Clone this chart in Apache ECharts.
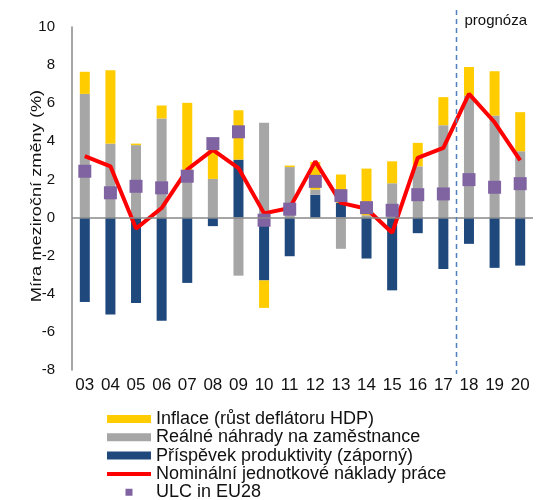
<!DOCTYPE html>
<html lang="cs">
<head>
	<meta charset="UTF-8" />
	<title>Jednotkové náklady práce</title>
	<script src="https://cdn.jsdelivr.net/npm/echarts@6/dist/echarts.min.js"></script>
	<style>
		html, body { margin: 0; padding: 0; background: #fff; }
		#main { width: 543px; height: 500px; }
	</style>
</head>
<body>
<div id="main"></div>
<script>
	// roky (03 = 2003 ... 20 = 2020, od 18 prognóza)
	var years = ['03','04','05','06','07','08','09','10','11','12','13','14','15','16','17','18','19','20'];

	// složky sloupců (p.b.)
	var inflace = [1.16, 3.85, 0.08, 0.68, 4.07, 1.72, 2.59, -1.44, 0.08, 1.45, 1.48, 2.45, 1.15, 1.23, 1.47, 1.5, 2.33, 2.05];
	var realneNahrady = [6.49, 3.88, 3.8, 5.2, 1.95, 2.03, -3.05, 4.97, 2.65, 0.27, -1.64, 0.12, 1.8, 2.69, 4.85, 6.4, 5.35, 3.48];
	var produktivita = [-4.43, -5.09, -4.48, -5.41, -3.43, -0.45, 3.04, -3.3, -2.03, 1.2, 0.78, -2.15, -3.82, -0.82, -2.7, -1.38, -2.64, -2.52];

	// čára a body
	var nominalniULC = [3.22, 2.69, -0.58, 0.5, 2.52, 3.55, 2.6, 0.22, 0.5, 2.95, 0.77, 0.46, -0.8, 3.13, 3.66, 6.49, 5.0, 3.0];
	var ulcEU28 = [2.43, 1.3, 1.64, 1.56, 2.17, 3.88, 4.5, -0.14, 0.44, 1.9, 1.15, 0.52, 0.38, 1.2, 1.24, 1.99, 1.59, 1.78];

	var yTicks = { min: -8, max: 10, step: 2 };

	var font = 'Liberation Sans, Arial, sans-serif';
	var chart = echarts.init(document.getElementById('main'));

	chart.setOption({
		animation: false,
		textStyle: { fontFamily: font, color: '#111' },
		grid: { left: 72, right: 10, top: 27, bottom: 130 },
		legend: {
			orient: 'vertical',
			left: 107,
			top: 410,
			height: 140,
			padding: 0,
			itemWidth: 44,
			itemHeight: 8,
			itemGap: 0.3,
			selectedMode: false,
			textStyle: { fontFamily: font, fontSize: 18, lineHeight: 18, color: '#111' },
			data: [
				{ name: 'Inflace (růst deflátoru HDP)', icon: 'rect' },
				{ name: 'Reálné náhrady na zaměstnance', icon: 'rect' },
				{ name: 'Příspěvek produktivity (záporný)', icon: 'rect' },
				{ name: 'Nominální jednotkové náklady práce', icon: 'path://M0,0L0.01,0M0,8L0.01,8M0,2h44v4h-44z' },
				{ name: 'ULC in EU28', icon: 'path://M0,4L0.01,4M44,4L44.01,4M18.5,0.5h7v7h-7z' }
			]
		},
		xAxis: {
			type: 'category',
			data: years,
			axisLine: { show: false },
			axisTick: { show: false },
			axisLabel: { fontSize: 17, color: '#111', margin: 7, interval: 0, fontFamily: font }
		},
		yAxis: {
			type: 'value',
			min: yTicks.min,
			max: yTicks.max,
			interval: yTicks.step,
			axisLine: { show: true, lineStyle: { color: '#888', width: 1.5 } },
			axisTick: { show: false },
			splitLine: { show: false },
			axisLabel: { fontSize: 15, color: '#111', margin: 17, fontFamily: font }
		},
		series: [
			{
				name: 'Příspěvek produktivity (záporný)',
				type: 'bar',
				stack: 'ulc',
				barWidth: 10,
				data: produktivita,
				itemStyle: { color: '#1F497D' },
				markLine: {
					silent: true,
					symbol: 'none',
					label: { show: false },
					lineStyle: { color: '#888', type: 'solid', width: 1.5 },
					data: [{ yAxis: 0 }]
				}
			},
			{
				name: 'Reálné náhrady na zaměstnance',
				type: 'bar',
				stack: 'ulc',
				barWidth: 10,
				data: realneNahrady,
				itemStyle: { color: '#A6A6A6' }
			},
			{
				name: 'Inflace (růst deflátoru HDP)',
				type: 'bar',
				stack: 'ulc',
				barWidth: 10,
				data: inflace,
				itemStyle: { color: '#FFCC00' }
			},
			{
				name: 'Nominální jednotkové náklady práce',
				type: 'line',
				data: nominalniULC,
				symbol: 'none',
				lineStyle: { color: '#FF0000', width: 4 },
				itemStyle: { color: '#FF0000' },
				z: 3
			},
			{
				name: 'ULC in EU28',
				type: 'scatter',
				data: ulcEU28,
				symbol: 'rect',
				symbolSize: 13,
				itemStyle: { color: '#8064A2', opacity: 1 },
				z: 4
			}
		]
	});

	// hranice prognózy mezi 17 a 18
	var x17 = chart.convertToPixel({ xAxisIndex: 0 }, '17');
	var x18 = chart.convertToPixel({ xAxisIndex: 0 }, '18');
	var xSplit = Math.round((x17 + x18) / 2) + 0.5;

	chart.setOption({
		graphic: [
			{
				type: 'line',
				shape: { x1: xSplit, y1: 10, x2: xSplit, y2: 374 },
				style: { stroke: '#4F81BD', lineWidth: 1.5, lineDash: [5, 4] },
				z: 10
			},
			{
				type: 'text',
				left: xSplit + 8,
				top: 13,
				style: { text: 'prognóza', fontSize: 15, fontFamily: font, fill: '#111' }
			},
			{
				// název osy y (v předloze je písmo protažené)
				type: 'text',
				x: 37.5,
				y: 196,
				rotation: Math.PI / 2,
				scaleX: 1.3,
				style: {
					text: 'Míra meziroční změny (%)',
					fontSize: 14,
					fontFamily: font,
					fill: '#111',
					align: 'center',
					verticalAlign: 'middle'
				}
			}
		]
	});
</script>
</body>
</html>
